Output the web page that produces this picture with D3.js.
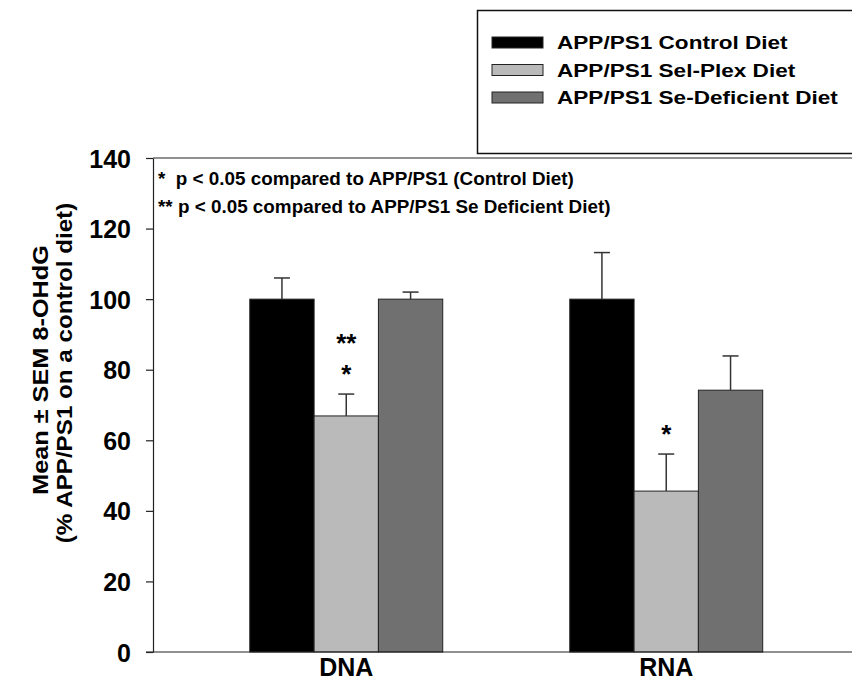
<!DOCTYPE html>
<html>
<meta charset="utf-8">
<head>
    <script src="https://d3js.org/d3.v7.min.js"></script>
<style>
    body { margin: 0; background: #fff; }
    text { font-family: "Liberation Sans", Arial, sans-serif; font-weight: bold; fill: #000; }
</style>
</head>
<body>
<div id="chart"></div>
<script>
    // chart data
    var groups = ["DNA", "RNA"];
    var series = ["APP/PS1 Control Diet", "APP/PS1 Sel-Plex Diet", "APP/PS1 Se-Deficient Diet"];
    var colors = ["#000000", "#bababa", "#707070"];
    var dnaMean = [100, 66.9, 100];
    var dnaSem = [6.0, 6.2, 2.0];
    var rnaMean = [100, 45.6, 74.2];
    var rnaSem = [13.2, 10.5, 9.7];
    var yTicks = [0, 20, 40, 60, 80, 100, 120, 140];
    var sigMarks = [
        {group: "DNA", s: 1, marks: ["*", "**"]},
        {group: "RNA", s: 1, marks: ["*"]}
    ];
    var notes = ["*  p < 0.05 compared to APP/PS1 (Control Diet)",
                 "** p < 0.05 compared to APP/PS1 Se Deficient Diet)"];
    var yTitle = ["Mean \u00b1 SEM 8-OHdG", "(% APP/PS1 on a control diet)"];

    var W = 852, H = 681;
    var svg = d3.select("#chart").append("svg")
        .attr("width", W).attr("height", H);

    var y = d3.scaleLinear().domain([0, 140]).range([652, 158]);
    var x0 = d3.scaleBand().domain(groups).range([153, 859.5])
        .paddingInner(0.397).paddingOuter(0.3025);
    var x1 = d3.scaleBand().domain(d3.range(series.length)).range([0, x0.bandwidth()]);

    var rows = [];
    groups.forEach(function(g, gi) {
        var m = gi === 0 ? dnaMean : rnaMean;
        var e = gi === 0 ? dnaSem : rnaSem;
        m.forEach(function(v, i) { rows.push({group: g, s: i, mean: v, sem: e[i]}); });
    });

    // stretched text helper (the original font is wider than Arial)
    function stext(sel, x, yy, str, size, sx, anchor, rot) {
        return sel.append("text")
            .attr("transform", "translate(" + x + "," + yy + ")" + (rot ? " rotate(" + rot + ")" : "") + " scale(" + sx + ",1)")
            .attr("text-anchor", anchor || "start")
            .style("font-size", size + "px")
            .text(str);
    }

    // legend box
    svg.append("rect")
        .attr("x", 477.5).attr("y", 10.5).attr("width", 420).attr("height", 143)
        .attr("fill", "#fff").attr("stroke", "#111").attr("stroke-width", 1.5);
    series.forEach(function(s, i) {
        var cy = 42.5 + i * 27.5;
        svg.append("rect")
            .attr("x", 492).attr("y", cy - 5.5).attr("width", 51).attr("height", 11)
            .attr("fill", colors[i]).attr("stroke", "#222").attr("stroke-width", 1);
        stext(svg, 557, cy + 6.5, s, 18.5, 1.22);
    });

    // top frame line
    svg.append("line")
        .attr("x1", 153).attr("x2", W).attr("y1", y(140)).attr("y2", y(140))
        .attr("stroke", "#222").attr("stroke-width", 1.2);

    // bars
    svg.selectAll(".bar").data(rows).enter().append("rect")
        .attr("class", "bar")
        .attr("x", function(d) { return x0(d.group) + x1(d.s); })
        .attr("width", x1.bandwidth())
        .attr("y", function(d) { return y(d.mean); })
        .attr("height", function(d) { return y(0) - y(d.mean); })
        .attr("fill", function(d) { return colors[d.s]; })
        .attr("stroke", "#222").attr("stroke-width", 1);

    // upper error bars
    var eb = svg.selectAll(".err").data(rows).enter().append("g").attr("class", "err")
        .attr("stroke", "#333").attr("stroke-width", 1.5);
    eb.append("line")
        .attr("x1", function(d) { return x0(d.group) + x1(d.s) + x1.bandwidth() / 2; })
        .attr("x2", function(d) { return x0(d.group) + x1(d.s) + x1.bandwidth() / 2; })
        .attr("y1", function(d) { return y(d.mean); })
        .attr("y2", function(d) { return y(d.mean + d.sem); });
    eb.append("line")
        .attr("x1", function(d) { return x0(d.group) + x1(d.s) + x1.bandwidth() / 2 - 8; })
        .attr("x2", function(d) { return x0(d.group) + x1(d.s) + x1.bandwidth() / 2 + 8; })
        .attr("y1", function(d) { return y(d.mean + d.sem); })
        .attr("y2", function(d) { return y(d.mean + d.sem); });

    // significance asterisks
    sigMarks.forEach(function(sm) {
        var r = rows.filter(function(d) { return d.group === sm.group && d.s === sm.s; })[0];
        var cx = x0(r.group) + x1(r.s) + x1.bandwidth() / 2;
        var top = y(r.mean + r.sem);
        sm.marks.forEach(function(mk, k) {
            var cyy = top - 26 - k * 31;
            svg.append("text")
                .attr("x", cx).attr("y", cyy + 15)
                .attr("text-anchor", "middle")
                .style("font-size", "26px")
                .text(mk);
        });
    });

    // y axis
    var yAxis = svg.append("g")
        .attr("transform", "translate(153,0)")
        .call(d3.axisLeft(y).tickValues(yTicks).tickSize(7).tickSizeOuter(0).tickPadding(15));
    yAxis.select(".domain").attr("stroke", "#222").attr("stroke-width", 1.2);
    yAxis.selectAll(".tick line").attr("stroke", "#222").attr("stroke-width", 1.2);
    yAxis.selectAll(".tick text")
        .style("font-family", "'Liberation Sans', Arial, sans-serif")
        .style("font-weight", "bold")
        .style("font-size", "25px")
        .attr("dy", "0.36em")
        .attr("fill", "#000");

    // x axis line
    svg.append("line")
        .attr("x1", 146).attr("x2", W).attr("y1", y(0)).attr("y2", y(0))
        .attr("stroke", "#222").attr("stroke-width", 1.2);
    groups.forEach(function(g) {
        svg.append("text")
            .attr("x", x0(g) + x0.bandwidth() / 2).attr("y", 676)
            .attr("text-anchor", "middle")
            .style("font-size", "25px")
            .text(g);
    });

    // annotation notes
    notes.forEach(function(n, i) {
        stext(svg, 158, 185 + i * 28, n, 18.5, 1.02).style("white-space", "pre");
    });

    // y axis title
    stext(svg, 48, 370, yTitle[0], 22, 1.15, "middle", -90);
    stext(svg, 72, 373, yTitle[1], 22, 1.1, "middle", -90);
</script>
</body>
</html>
